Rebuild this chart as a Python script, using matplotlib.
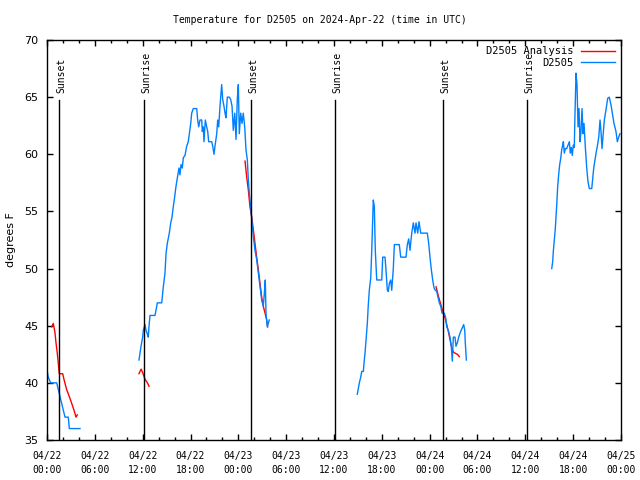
import numpy as np
import matplotlib
matplotlib.use("Agg")
import matplotlib.pyplot as plt
from matplotlib.ticker import MultipleLocator

# Hours since 2024-04-22 00:00 UTC
blue1_h = [0.0, 0.16, 0.46, 1.22, 1.42, 1.63, 1.84, 2.04, 2.26, 2.67, 2.8, 4.14]
blue1_t = [41.1, 40.5, 40.0, 40.0, 39.4, 38.8, 38.2, 37.6, 37.0, 37.0, 36.0, 36.0]

blue2_h = [11.54, 11.67, 11.79, 12.0, 12.08, 12.29, 12.42, 12.58, 12.71, 12.79, 12.92, 13.55,
           13.84, 14.39, 14.59, 14.8, 14.93, 15.09, 15.34, 15.52, 15.68, 15.84, 16.02, 16.18,
           16.34, 16.56, 16.68, 16.81, 16.97, 17.1, 17.31, 17.52, 17.72, 17.85, 18.03, 18.15,
           18.35, 18.78, 18.9, 19.03, 19.19, 19.41, 19.48, 19.61, 19.69, 19.86, 20.03, 20.16,
           20.28, 20.66, 20.79, 20.95, 21.07, 21.29, 21.41, 21.54, 21.7, 21.91, 22.04, 22.2,
           22.33, 22.45, 22.62, 22.87, 23.04, 23.21, 23.37, 23.55, 23.71, 23.87, 24.0, 24.12,
           24.3, 24.46, 24.62, 24.8, 24.96, 25.13, 25.25, 25.38, 25.55, 25.72, 25.88, 26.09,
           26.3, 26.51, 26.72, 26.93, 27.13, 27.26, 27.38, 27.47, 27.63, 27.76, 27.88]
blue2_t = [42.0, 42.6, 43.2, 44.0, 44.6, 45.1, 44.6, 44.3, 44.0, 44.9, 45.9, 45.9,
           47.0, 47.0, 48.4, 49.6, 51.3, 52.2, 53.1, 54.0, 54.5, 55.4, 56.3, 57.2,
           57.9, 58.8, 58.2, 59.1, 58.8, 59.7, 59.9, 60.7, 61.1, 61.8, 62.7, 63.6,
           64.0, 64.0, 63.0, 62.4, 63.0, 63.0, 62.0, 62.4, 61.1, 63.0, 62.4, 62.0,
           61.1, 61.1, 60.7, 60.0, 60.7, 61.8, 63.0, 62.4, 64.2, 66.1, 64.8, 64.2,
           63.6, 63.2, 65.0, 65.0, 64.8, 64.2, 62.1, 63.6, 61.3, 64.8, 66.1, 61.8,
           63.6, 62.7, 63.6, 62.4, 60.4, 59.5, 57.8, 56.6, 55.4, 54.0, 52.8, 51.6,
           50.8, 49.6, 48.4, 47.25, 46.7, 47.8, 49.0, 46.1, 44.9, 45.2, 45.5]

blue3_h = [38.92, 39.05, 39.18, 39.35, 39.48, 39.68, 39.76, 39.89, 40.02, 40.18, 40.3, 40.43,
           40.61, 40.73, 40.86, 40.93, 41.06, 41.18, 41.36, 41.99, 42.11, 42.4, 42.52, 42.69,
           42.81, 42.94, 43.11, 43.24, 43.44, 43.57, 44.19, 44.37, 45.03, 45.2, 45.37, 45.53,
           45.75, 45.95, 46.16, 46.29, 46.5, 46.66, 46.88, 47.7, 47.88, 48.04, 48.21, 48.38,
           48.55, 48.71, 48.88, 49.05, 49.21, 49.39, 49.55, 49.84, 50.01, 50.14, 50.34, 50.55,
           50.71, 50.84, 50.97, 51.18, 51.3, 51.47, 51.64, 51.89, 52.14, 52.27, 52.4, 52.47, 52.6]
blue3_t = [39.0, 39.5, 40.0, 40.5, 41.0, 41.0, 41.7, 42.6, 43.8, 45.2, 46.8, 48.1,
           49.2, 51.5, 54.5, 56.0, 55.4, 51.6, 49.0, 49.0, 51.0, 51.0, 49.9, 48.1,
           48.0, 48.7, 49.0, 48.1, 50.0, 52.1, 52.1, 51.0, 51.0, 52.1, 52.6, 51.6,
           53.1, 54.0, 53.1, 54.0, 53.1, 54.1, 53.1, 53.1, 52.2, 51.0, 49.9, 49.0,
           48.3, 48.1, 48.0, 47.5, 47.0, 46.7, 46.1, 46.1, 45.7, 44.9, 44.6, 44.0,
           43.2, 41.9, 44.0, 44.0, 43.2, 43.5, 44.0, 44.5, 44.9, 45.1, 44.6, 43.5, 42.0]

blue4_h = [63.31, 63.43, 63.51, 63.64, 63.76, 63.85, 63.94, 64.06, 64.19, 64.31, 64.44, 64.56,
           64.69, 64.77, 64.89, 65.02, 65.19, 65.35, 65.52, 65.64, 65.77, 65.89, 66.02, 66.14,
           66.23, 66.36, 66.48, 66.61, 66.73, 66.86, 66.98, 67.11, 67.24, 67.36, 67.52, 67.7,
           67.86, 68.03, 68.33, 68.45, 68.58, 68.74, 68.87, 69.03, 69.21, 69.37, 69.49, 69.62,
           69.74, 69.91, 70.12, 70.33, 70.53, 70.75, 70.91, 71.12, 71.37, 71.54, 71.71, 71.87]
blue4_t = [50.0, 50.6, 51.5, 52.5, 53.5, 54.5, 55.6, 57.2, 58.3, 59.1, 59.65, 60.4,
           60.8, 61.1, 60.1, 60.5, 60.5, 60.8, 61.1, 60.1, 60.6, 59.9, 60.8, 60.6,
           63.6, 67.1, 66.1, 62.4, 64.0, 61.1, 62.0, 64.0, 61.8, 62.7, 60.7, 58.8,
           57.6, 57.0, 57.0, 57.9, 58.8, 59.5, 60.1, 60.7, 61.5, 63.0, 62.0, 60.5,
           61.5, 63.0, 63.9, 64.9, 65.0, 64.3, 63.6, 62.7, 62.0, 61.1, 61.5, 61.8]

red1_h = [0.59, 0.79, 1.0, 1.13, 1.29, 1.42, 1.54, 1.97, 2.13, 2.47, 2.8, 3.1, 3.39, 3.64, 3.8]
red1_t = [44.9, 45.2, 44.4, 43.5, 42.6, 41.7, 40.8, 40.8, 40.3, 39.4, 38.8, 38.2, 37.6, 37.0, 37.2]

red2_h = [11.54, 11.8, 12.0, 12.3, 12.6, 12.8]
red2_t = [40.8, 41.2, 40.9, 40.3, 40.0, 39.7]

red3_h = [24.84, 25.05, 25.25, 25.46, 25.68, 25.88, 26.09, 26.3, 26.51, 26.72, 26.93, 27.13,
          27.35, 27.56, 27.68]
red3_t = [59.4, 58.0, 56.9, 55.4, 54.5, 53.4, 52.2, 51.0, 49.9, 48.7, 47.5, 46.7, 46.1, 45.5, 44.9]

red4_h = [48.8, 49.13, 49.3, 49.51, 49.71, 49.92, 50.14, 50.34, 50.55, 50.76, 50.97, 51.18,
          51.47, 51.72]
red4_t = [48.4, 47.5, 47.1, 46.6, 46.1, 45.7, 45.1, 44.5, 43.8, 43.1, 42.7, 42.6, 42.5, 42.3]

sun_events_h = [1.55, 12.2, 25.63, 36.17, 49.7, 60.25]
sun_events_lbl = ["Sunset", "Sunrise", "Sunset", "Sunrise", "Sunset", "Sunrise"]

xtick_h = [0, 6, 12, 18, 24, 30, 36, 42, 48, 54, 60, 66, 72]
xtick_lbl = ["04/22\n00:00", "04/22\n06:00", "04/22\n12:00", "04/22\n18:00",
             "04/23\n00:00", "04/23\n06:00", "04/23\n12:00", "04/23\n18:00",
             "04/24\n00:00", "04/24\n06:00", "04/24\n12:00", "04/24\n18:00",
             "04/25\n00:00"]


def join(segs):
    xs, ys = [], []
    for h, t in segs:
        xs += list(h) + [np.nan]
        ys += list(t) + [np.nan]
    return np.array(xs), np.array(ys)


red_x, red_y = join([(red1_h, red1_t), (red2_h, red2_t), (red3_h, red3_t), (red4_h, red4_t)])
blue_x, blue_y = join([(blue1_h, blue1_t), (blue2_h, blue2_t), (blue3_h, blue3_t), (blue4_h, blue4_t)])

MONO = "DejaVu Sans Mono"
fig = plt.figure(figsize=(6.4, 4.8), dpi=100)
ax = fig.add_axes([47 / 640, 40 / 480, 574 / 640, 400 / 480])

ax.plot(red_x, red_y, color="#ff0000", lw=1.0, label="D2505 Analysis")
ax.plot(blue_x, blue_y, color="#0080ff", lw=1.0, label="D2505")

for h, lbl in zip(sun_events_h, sun_events_lbl):
    ax.plot([h, h], [0, 0.85], color="black", lw=1.0, transform=ax.get_xaxis_transform())
    ax.text(h + 0.25, 0.868, lbl, rotation=90, ha="center", va="bottom",
            transform=ax.get_xaxis_transform(), fontsize=7, family=MONO)

ax.set_xlim(0, 72)
ax.set_ylim(35, 70)
ax.set_xticks(xtick_h)
ax.set_xticklabels(xtick_lbl, family=MONO, fontsize=7, linespacing=1.5)
ax.xaxis.set_minor_locator(MultipleLocator(2))
ax.yaxis.set_major_locator(MultipleLocator(5))
ax.tick_params(axis="both", which="both", direction="in", top=True, right=True, width=1.0)
ax.tick_params(axis="both", which="major", length=4)
ax.tick_params(axis="both", which="minor", length=2.5)
ax.tick_params(axis="x", which="major", pad=8)
ax.tick_params(axis="y", which="major", pad=6, labelsize=8)
for sp in ax.spines.values():
    sp.set_linewidth(1.0)
    sp.set_color("black")

ax.set_ylabel("degrees F", fontsize=8, labelpad=6)
fig.suptitle("Temperature for D2505 on 2024-Apr-22 (time in UTC)", y=0.968,
             fontsize=7, family=MONO)

leg = ax.legend(loc="upper right", frameon=False, markerfirst=False,
                prop={"family": MONO, "size": 7.5}, handlelength=3.2,
                borderaxespad=0.2, labelspacing=0.15, handletextpad=0.8)

fig.savefig("out.png", dpi=100)
